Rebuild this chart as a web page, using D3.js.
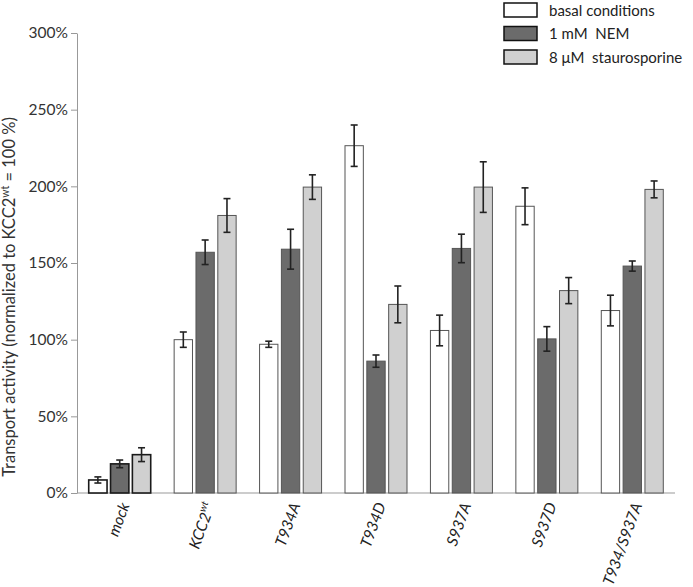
<!DOCTYPE html>
<html><head><meta charset="utf-8">
<script src="https://cdn.jsdelivr.net/npm/d3@7"></script>
<style>body{margin:0;background:#fff}svg{display:block}text{font-family:Lato,"Open Sans",sans-serif}</style>
</head><body>
<svg id="c" width="693" height="587"></svg>
<script>
const categories = ["mock","KCC2wt","T934A","T934D","S937A","S937D","T934/S937A"];
const seriesNames = ["basal conditions","1 mM  NEM","8 \u03bcM  staurosporine"];
const basal = [8.5,100,97,226.5,106,187,119];
const basalErr = [2,5,2,13.5,10,12,10];
const nem = [19,157,159,86,159.5,100.5,148];
const nemErr = [2.5,8,13,4,9.3,8,3.3];
const stauro = [25,181,199.5,123,199.5,132,198];
const stauroErr = [4.5,11,8,12,16.5,8.5,5.5];
const yTicks = [0,50,100,150,200,250,300];
const colors = ["#ffffff","#6b6b6b","#d0d0d0"];

const svg = d3.select("#c");
const m = {l:77, r:675, t:33, b:493};
const x = d3.scaleBand().domain(categories).range([m.l, m.r]);
const y = d3.scaleLinear().domain([0,300]).range([m.b, m.t]);
const sub = d3.scaleBand().domain([0,1,2]).range([-31, 31]).paddingInner(0.16);

const yAxis = svg.append("g").attr("transform",`translate(${m.l},0)`)
  .call(d3.axisLeft(y).tickValues(yTicks).tickFormat(d=>d+"%").tickSize(6).tickSizeOuter(0));
yAxis.select(".domain").attr("stroke","#999");
yAxis.selectAll(".tick line").attr("stroke","#999");
yAxis.selectAll(".tick text").attr("font-size",15.5).attr("fill","#333").attr("x",-9)
  .attr("font-family","Lato,'Open Sans',sans-serif");

svg.append("line").attr("x1",m.l).attr("x2",m.r).attr("y1",m.b).attr("y2",m.b).attr("stroke","#999");

const series = [[basal,basalErr],[nem,nemErr],[stauro,stauroErr]];
series.forEach(([vals,errs],si)=>{
  categories.forEach((c,ci)=>{
    const cx = x(c)+x.bandwidth()/2 + sub(si);
    const w = sub.bandwidth();
    const isMock = ci===0;
    svg.append("rect").attr("x",cx).attr("width",w)
      .attr("y",y(vals[ci])).attr("height",y(0)-y(vals[ci]))
      .attr("fill",colors[si]).attr("stroke",isMock?"#1a1a1a":"#555").attr("stroke-width",isMock?1.6:1);
  });
});
series.forEach(([vals,errs],si)=>{
  categories.forEach((c,ci)=>{
    const ex = x(c)+x.bandwidth()/2 + sub(si) + sub.bandwidth()/2;
    const hi = y(vals[ci]+errs[ci]), lo = y(vals[ci]-errs[ci]);
    const g = svg.append("g").attr("stroke","#222").attr("stroke-width",1.6);
    g.append("line").attr("x1",ex).attr("x2",ex).attr("y1",hi).attr("y2",lo);
    g.append("line").attr("x1",ex-3.5).attr("x2",ex+3.5).attr("y1",hi).attr("y2",hi);
    g.append("line").attr("x1",ex-3.5).attr("x2",ex+3.5).attr("y1",lo).attr("y2",lo);
  });
});

// x labels
categories.forEach(c=>{
  const cx = x(c)+x.bandwidth()/2 + 10;
  const t = svg.append("text").attr("transform",`translate(${cx},505) rotate(-70)`)
    .attr("text-anchor","end").attr("font-size",15.5).attr("font-style","italic").attr("fill","#222");
  if (c==="KCC2wt") {
    t.append("tspan").text("KCC2");
    t.append("tspan").text("wt").attr("font-size",10).attr("dy",-7);
  } else t.text(c);
});

// y label
const yl = svg.append("text").attr("transform","translate(15,297) rotate(-90)")
  .attr("text-anchor","middle").attr("font-size",16.5).attr("fill","#333");
yl.append("tspan").text("Transport activity (normalized to KCC2");
yl.append("tspan").text("wt").attr("font-size",10.5).attr("dy",-6);
yl.append("tspan").text(" = 100 %)").attr("dy",6);

// legend
seriesNames.forEach((n,i)=>{
  const ly = 3 + i*23.5;
  svg.append("rect").attr("x",504).attr("y",ly).attr("width",33).attr("height",14)
    .attr("fill",colors[i]).attr("stroke","#111").attr("stroke-width",1.5);
  svg.append("text").attr("x",549).attr("y",ly+12.5).attr("font-size",15).attr("fill","#222")
    .attr("xml:space","preserve").style("white-space","pre").text(n);
});
</script>
</body></html>
